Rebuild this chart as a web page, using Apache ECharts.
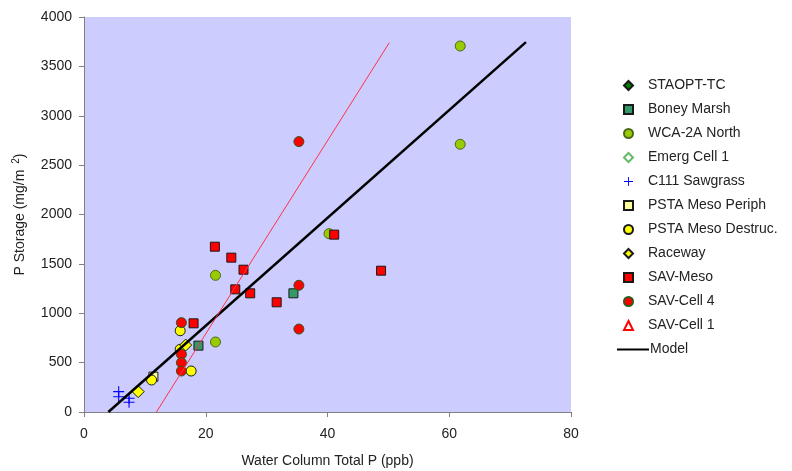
<!DOCTYPE html>
<html>
<head>
<meta charset="utf-8">
<script src="https://cdn.jsdelivr.net/npm/echarts@6/dist/echarts.min.js"></script>
<style>
    html, body { margin: 0; padding: 0; background: #fff; }
    #chart { width: 792px; height: 471px; }
</style>
</head>
<body>
<div id="chart"></div>
<script>
// 数据 [Water Column Total P (ppb), P Storage (mg/m2)]
const staoptTc = []
const boneyMarsh = [[18.8, 672], [34.4, 1202]]
const wca2aNorth = [[21.6, 709], [21.6, 1384], [40.25, 1806], [61.8, 2711], [61.8, 3706]]
const emergCell1 = []
const c111Sawgrass = [[5.7, 206], [5.7, 155], [7.4, 139], [7.4, 98]]
const pstaMesoPeriph = [[11.4, 358]]
const pstaMesoDestruc = [[11.1, 324], [15.8, 823], [15.8, 635], [17.6, 415]]
const raceway = [[8.9, 206], [16.7, 678]]
const savMeso = [[18.0, 898], [21.5, 1674], [24.2, 1563], [26.2, 1441], [24.85, 1242], [27.3, 1202], [31.65, 1111], [41.1, 1796], [48.8, 1431]]
const savCell4 = [[16.0, 905], [16.0, 584], [16.0, 499], [16.0, 415], [35.3, 1283], [35.3, 840], [35.3, 2738]]
const savCell1 = []
const modelLine = [[4.0, 0], [72.6, 3745]]
const redLine = [[11.9, 0], [50.15, 3740]]

const markerNames = ['STAOPT-TC', 'Boney Marsh', 'WCA-2A North', 'Emerg Cell 1', 'C111 Sawgrass',
    'PSTA Meso Periph', 'PSTA Meso Destruc.', 'Raceway', 'SAV-Meso', 'SAV-Cell 4', 'SAV-Cell 1']

const plus = 'path://M4.5,0H5.5V10H4.5Z M0,4.5H10V5.5H0Z'

function scatter(name, data, symbol, size, fill, border, bw) {
    return {
        name: name,
        type: 'scatter',
        data: data,
        symbol: symbol,
        symbolSize: size,
        itemStyle: { color: fill, borderColor: border, borderWidth: bw === undefined ? 1 : bw, opacity: 1 },
    }
}

const chart = echarts.init(document.getElementById('chart'))
const font = 'Liberation Sans, Arial, sans-serif'
const legendText = { color: '#222', fontSize: 14, fontFamily: font, lineHeight: 17 }

const option = {
    animation: false,
    textStyle: { fontFamily: font },
    grid: {
        left: 84, top: 17, right: 221, bottom: 59,
        outerBoundsMode: 'none',
        show: true, backgroundColor: '#ccccff', borderWidth: 0,
    },
    legend: [
        {
            orient: 'vertical',
            left: 618,
            top: 72,
            itemWidth: 9,
            itemHeight: 9,
            itemGap: 7,
            data: markerNames,
            textStyle: Object.assign({ padding: [0, 0, 0, 10] }, legendText),
        },
        {
            // Model 线单独一个图例
            orient: 'vertical',
            left: 612,
            top: 336,
            itemWidth: 32,
            itemHeight: 2,
            data: [{ name: 'Model', icon: 'rect' }],
            textStyle: Object.assign({ padding: [0, 0, 0, -4] }, legendText),
        },
    ],
    xAxis: {
        type: 'value',
        min: 0,
        max: 80,
        interval: 20,
        name: 'Water Column Total P (ppb)',
        nameLocation: 'middle',
        nameGap: 42,
        nameTextStyle: { color: '#222', fontSize: 14 },
        splitLine: { show: false },
        axisLine: { lineStyle: { color: '#808080', width: 1 } },
        axisTick: { show: true, length: 5, lineStyle: { color: '#808080' } },
        axisLabel: { color: '#222', fontSize: 14, margin: 15 },
    },
    yAxis: {
        type: 'value',
        min: 0,
        max: 4000,
        interval: 500,
        name: '{a|P Storage (mg/m }{s|2}{a|)}',
        nameLocation: 'middle',
        nameGap: 55,
        nameTextStyle: {
            rich: {
                a: { color: '#222', fontSize: 14, fontFamily: font },
                s: { color: '#222', fontSize: 10, fontFamily: font, verticalAlign: 'top', padding: [0, 0, 8, 2] },
            },
        },
        splitLine: { show: false },
        axisLine: { show: true, lineStyle: { color: '#808080', width: 1 } },
        axisTick: { show: true, length: 5, lineStyle: { color: '#808080' } },
        axisLabel: { color: '#222', fontSize: 14, margin: 12, formatter: (v) => String(v) },
    },
    series: [
        scatter('STAOPT-TC', staoptTc, 'diamond', 10, '#008000', '#1a1a1a'),
        scatter('Boney Marsh', boneyMarsh, 'rect', 9, '#339966', '#1a1a1a'),
        scatter('WCA-2A North', wca2aNorth, 'circle', 10, '#99cc00', '#4d6619'),
        scatter('Emerg Cell 1', emergCell1, 'diamond', 11, 'rgba(255,255,255,0)', '#66bb66'),
        scatter('C111 Sawgrass', c111Sawgrass, plus, 11, '#0000ff', '#0000ff', 0),
        scatter('PSTA Meso Periph', pstaMesoPeriph, 'rect', 9, '#ffff99', '#1a1a1a'),
        scatter('PSTA Meso Destruc.', pstaMesoDestruc, 'circle', 10, '#ffff00', '#1a1a1a'),
        scatter('Raceway', raceway, 'diamond', 12, '#ffff00', '#1a1a1a'),
        scatter('SAV-Meso', savMeso, 'rect', 9, '#ff0000', '#1a1a1a'),
        scatter('SAV-Cell 4', savCell4, 'circle', 10, '#ff0000', '#2d5a1e'),
        scatter('SAV-Cell 1', savCell1, 'triangle', 11, 'rgba(255,255,255,0)', '#ff0000'),
        {
            name: 'Model',
            type: 'line',
            data: modelLine,
            symbol: 'none',
            itemStyle: { color: '#000' },
            lineStyle: { color: '#000', width: 2.5 },
            z: 3,
        },
        {
            name: 'SAV fit',
            type: 'line',
            data: redLine,
            symbol: 'none',
            itemStyle: { color: '#ff3344' },
            lineStyle: { color: '#ff3344', width: 1 },
            z: 3,
        },
    ],
}
chart.setOption(option)
window.addEventListener('resize', chart.resize)
</script>
</body>
</html>
